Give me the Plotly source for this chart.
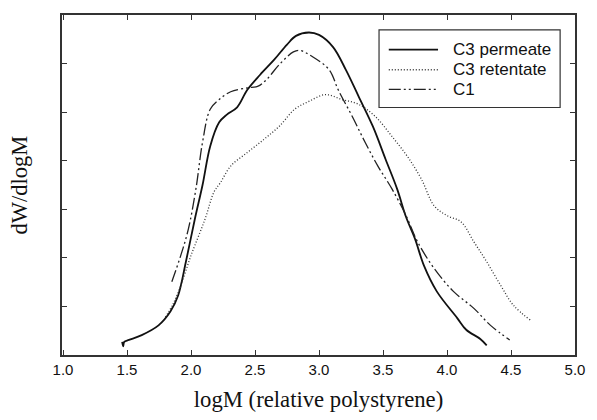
import plotly.graph_objects as go

# C3 permeate (solid)
perm_x = [1.462, 1.470, 1.478, 1.515, 1.615, 1.746, 1.84, 1.90, 1.96, 2.03, 2.09, 2.15, 2.22, 2.28,
          2.36, 2.44, 2.54, 2.65, 2.75, 2.82, 2.92, 3.00, 3.11, 3.21, 3.31, 3.42, 3.52, 3.61,
          3.68, 3.75, 3.82, 3.92, 4.08, 4.15, 4.26, 4.31]
perm_y = [0.27, 0.18, 0.27, 0.31, 0.41, 0.61, 0.90, 1.23, 1.92, 2.80, 3.50, 4.30, 4.79, 4.95,
          5.10, 5.46, 5.77, 6.08, 6.39, 6.57, 6.64, 6.59, 6.34, 5.87, 5.32, 4.71, 4.03, 3.42,
          2.84, 2.39, 1.84, 1.31, 0.76, 0.52, 0.33, 0.20]

# C3 retentate (dotted)
ret_x = [1.80, 1.86, 1.92, 2.00, 2.11, 2.18, 2.23, 2.31, 2.44, 2.57, 2.69, 2.81, 2.92, 3.05,
         3.18, 3.31, 3.44, 3.57, 3.69, 3.80, 3.90, 4.00, 4.11, 4.21, 4.31, 4.42, 4.52, 4.65]
ret_y = [0.78, 1.05, 1.43, 2.05, 2.80, 3.36, 3.55, 3.89, 4.17, 4.44, 4.71, 5.06, 5.22, 5.36,
         5.26, 5.16, 4.91, 4.50, 4.09, 3.62, 3.07, 2.87, 2.74, 2.33, 1.92, 1.43, 1.02, 0.72]

# C1 (dash-dot-dot)
c1_x = [1.85, 1.92, 1.98, 2.04, 2.09, 2.15, 2.22, 2.31, 2.44, 2.52, 2.59, 2.69, 2.80, 2.85,
        2.95, 3.08, 3.15, 3.26, 3.36, 3.46, 3.57, 3.68, 3.77, 3.90, 4.05, 4.21, 4.34, 4.49]
c1_y = [1.51, 2.05, 2.60, 3.45, 4.38, 5.06, 5.26, 5.42, 5.50, 5.53, 5.67, 5.98, 6.24, 6.27,
        6.14, 5.87, 5.46, 4.91, 4.38, 3.89, 3.42, 2.87, 2.33, 1.78, 1.31, 0.96, 0.61, 0.31]

names = ["C3 permeate", "C3 retentate", "C1"]
x_ticks = [1.0, 1.5, 2.0, 2.5, 3.0, 3.5, 4.0, 4.5, 5.0]
x_tick_labels = ["1.0", "1.5", "2.0", "2.5", "3.0", "3.5", "4.0", "4.5", "5.0"]
y_ticks = [0, 1, 2, 3, 4, 5, 6, 7]

styles = [
    dict(color="#111111", width=1.8, dash="solid"),
    dict(color="#333333", width=1.3, dash="1px,2px"),
    dict(color="#222222", width=1.3, dash="12px,3px,2px,3px,2px,3px"),
]
series = [(perm_x, perm_y), (ret_x, ret_y), (c1_x, c1_y)]

fig = go.Figure()
for (sx, sy), nm, st in zip(series, names, styles):
    fig.add_trace(go.Scatter(x=sx, y=sy, mode="lines", name=nm, showlegend=False,
                             line=dict(shape="spline", smoothing=1.0, **st)))

# legend box drawn in paper coordinates
leg_x0, leg_x1, leg_y0, leg_y1 = 0.618, 0.971, 0.728, 0.956
fig.add_shape(type="rect", xref="paper", yref="paper", x0=leg_x0, x1=leg_x1, y0=leg_y0, y1=leg_y1,
              line=dict(color="#333333", width=1.2), fillcolor="white", layer="above")
row_y = [0.898, 0.839, 0.781]
for ry, nm, st in zip(row_y, names, styles):
    fig.add_shape(type="line", xref="paper", yref="paper", x0=0.637, x1=0.733, y0=ry, y1=ry,
                  line=st, layer="above")
    fig.add_annotation(xref="paper", yref="paper", x=0.758, y=ry, text=nm, showarrow=False,
                       xanchor="left", yanchor="middle",
                       font=dict(family="Liberation Sans, Arial", size=17, color="#111111"))

axis_common = dict(showline=True, linecolor="#333333", linewidth=1.5, mirror="ticks",
                   ticks="inside", ticklen=5, tickcolor="#333333", tickwidth=1.2,
                   showgrid=False, zeroline=False)

fig.update_layout(
    width=597, height=420,
    margin=dict(l=62, r=14, t=15, b=63),
    paper_bgcolor="white", plot_bgcolor="white",
    xaxis=dict(range=[0.992, 5.0], tickvals=x_ticks, ticktext=x_tick_labels,
               tickfont=dict(family="Liberation Sans, Arial", size=15, color="#111111"),
               title=dict(text="logM (relative polystyrene)", standoff=14,
                          font=dict(family="Liberation Serif, Times New Roman", size=22.7,
                                    color="#111111")),
               **axis_common),
    yaxis=dict(range=[0, 7], tickvals=y_ticks, showticklabels=False,
               title=dict(text="dW/dlogM", standoff=26,
                          font=dict(family="Liberation Serif, Times New Roman", size=22.5,
                                    color="#111111")),
               **axis_common),
    showlegend=False,
)

fig.write_html("out.html")
